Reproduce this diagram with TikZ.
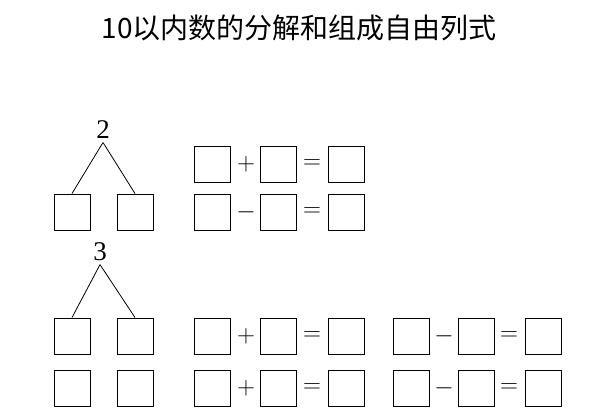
\documentclass[tikz,border=0pt]{standalone}
\usepackage{fontspec}
\newfontfamily\cjk{Noto Sans CJK SC}
\newfontfamily\numfont{Liberation Serif}
\usetikzlibrary{positioning}
\tikzset{cell/.style={draw, line width=0.9pt, minimum size=36pt, inner sep=0pt},
  op/.style={font=\fontsize{26}{26}\selectfont},
  num/.style={font=\numfont\fontsize{27}{27}\selectfont}}
\begin{document}
\begin{tikzpicture}[x=1pt, y=-1pt]
\useasboundingbox (0,0) rectangle (600,420);
\node[font=\cjk\fontsize{28}{28}\selectfont] (title) at (299,28) {10以内数的分解和组成自由列式};

% 2
\node[num] (n2) at (103,130) {2};
\node[cell] (a1) at (72,212) {};
\node[cell] (a2) at (135,212) {};
\draw[line width=0.8pt] (n2.south) -- (a1.north) (n2.south) -- (a2.north);

\foreach \r/\y/\s in {1/164/+, 2/212/-}{
  \node[cell] (p\r) at (212,\y) {};
  \node[op] (ps\r) at (246,\y) {$\s$};
  \node[cell] (q\r) at (278,\y) {};
  \node[op] (pe\r) at (312,\y) {$=$};
  \node[cell] (s\r) at (346,\y) {};
}

% 3
\node[num] (n3) at (100,252) {3};
\node[cell] (b1) at (72,336) {};
\node[cell] (b2) at (135,336) {};
\node[cell] (b3) at (72,388) {};
\node[cell] (b4) at (135,388) {};
\draw[line width=0.8pt] (n3.south) -- (b1.north) (n3.south) -- (b2.north);

\foreach \r/\y in {1/336, 2/388}{
  \node[cell] (u\r) at (212,\y) {};
  \node[op] (us\r) at (246,\y) {$+$};
  \node[cell] (v\r) at (278,\y) {};
  \node[op] (ue\r) at (312,\y) {$=$};
  \node[cell] (w\r) at (346,\y) {};
  \node[cell] (x\r) at (411,\y) {};
  \node[op] (xs\r) at (444,\y) {$-$};
  \node[cell] (y\r) at (476,\y) {};
  \node[op] (xe\r) at (509,\y) {$=$};
  \node[cell] (z\r) at (543,\y) {};
}
\end{tikzpicture}
\end{document}
